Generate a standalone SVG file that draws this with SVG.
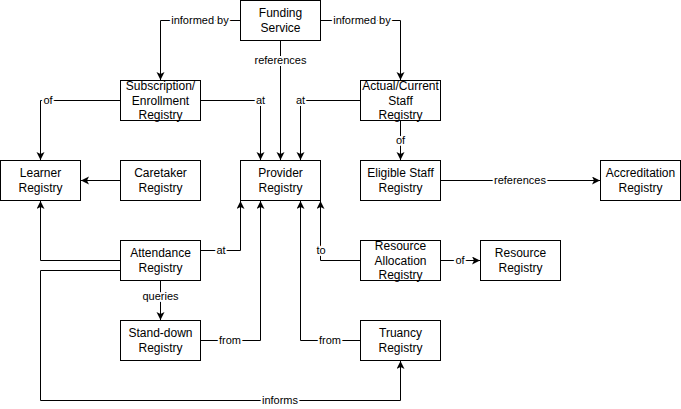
<svg xmlns="http://www.w3.org/2000/svg" width="681" height="409" viewBox="0 0 681 409">
<defs>
<marker id="arr" markerUnits="userSpaceOnUse" markerWidth="10" markerHeight="10" refX="8" refY="4" orient="auto">
<path d="M0,0 L8,4 L0,8 L2,4 Z" fill="#000"/>
</marker>
<style>
.node rect{fill:#fff;stroke:#000;stroke-width:1}
.node text{font-family:"Liberation Sans",Arial,sans-serif;font-size:12px;fill:#000;text-anchor:middle}
.edge{fill:none;stroke:#000;stroke-width:1}
.arrow{marker-end:url(#arr)}
.lbl{font-family:"Liberation Sans",Arial,sans-serif;font-size:11px;fill:#000;text-anchor:middle;stroke:#fff;stroke-width:4;paint-order:stroke;stroke-linejoin:round}
</style>
</defs>
<rect width="681" height="409" fill="#fff"/>
<g id="connectors">
<path class="edge arrow" d="M240.5,20.5 H160.5 V80"/>
<path class="edge arrow" d="M320.5,20.5 H400.5 V80"/>
<path class="edge arrow" d="M280.5,40.5 V160"/>
<path class="edge arrow" d="M120.5,100.5 H40.5 V160"/>
<path class="edge arrow" d="M200.5,100.5 H260.5 V160"/>
<path class="edge arrow" d="M360.5,100.5 H300.5 V160"/>
<path class="edge arrow" d="M400.5,120.5 V160"/>
<path class="edge arrow" d="M440.5,180.5 H600"/>
<path class="edge arrow" d="M120.5,180.5 H81"/>
<path class="edge arrow" d="M120.5,260.5 H40.5 V201"/>
<path class="edge arrow" d="M200.5,250.5 H240.5 V201"/>
<path class="edge arrow" d="M120.5,270.5 H40.5 V400.5 H400.5 V361"/>
<path class="edge arrow" d="M160.5,280.5 V320"/>
<path class="edge arrow" d="M200.5,340.5 H260.5 V201"/>
<path class="edge arrow" d="M360.5,340.5 H300.5 V201"/>
<path class="edge arrow" d="M360.5,260.5 H320.5 V201"/>
<path class="edge arrow" d="M440.5,260.5 H480"/>
<text class="lbl" x="200" y="24">informed by</text>
<text class="lbl" x="362" y="24">informed by</text>
<text class="lbl" x="280.5" y="64">references</text>
<text class="lbl" x="48" y="104">of</text>
<text class="lbl" x="260.5" y="104">at</text>
<text class="lbl" x="300.5" y="104">at</text>
<text class="lbl" x="400.5" y="144">of</text>
<text class="lbl" x="520" y="184">references</text>
<text class="lbl" x="221" y="254">at</text>
<text class="lbl" x="160.5" y="300">queries</text>
<text class="lbl" x="230" y="344">from</text>
<text class="lbl" x="330" y="344">from</text>
<text class="lbl" x="321" y="254">to</text>
<text class="lbl" x="460" y="264">of</text>
<text class="lbl" x="280" y="404">informs</text>
</g>
<g id="funding" class="node"><rect x="240.5" y="0.5" width="80" height="40"/><text x="280.5" y="17">Funding</text><text x="280.5" y="31.5">Service</text></g>
<g id="subscription" class="node"><rect x="120.5" y="80.5" width="80" height="40"/><text x="160.5" y="90">Subscription/</text><text x="160.5" y="104.5">Enrollment</text><text x="160.5" y="119">Registry</text></g>
<g id="actual-staff" class="node"><rect x="360.5" y="80.5" width="80" height="40"/><text x="400.5" y="90">Actual/Current</text><text x="400.5" y="104.5">Staff</text><text x="400.5" y="119">Registry</text></g>
<g id="learner" class="node"><rect x="0.5" y="160.5" width="80" height="40"/><text x="40.5" y="177">Learner</text><text x="40.5" y="191.5">Registry</text></g>
<g id="caretaker" class="node"><rect x="120.5" y="160.5" width="80" height="40"/><text x="160.5" y="177">Caretaker</text><text x="160.5" y="191.5">Registry</text></g>
<g id="provider" class="node"><rect x="240.5" y="160.5" width="80" height="40"/><text x="280.5" y="177">Provider</text><text x="280.5" y="191.5">Registry</text></g>
<g id="eligible-staff" class="node"><rect x="360.5" y="160.5" width="80" height="40"/><text x="400.5" y="177">Eligible Staff</text><text x="400.5" y="191.5">Registry</text></g>
<g id="accreditation" class="node"><rect x="600.5" y="160.5" width="80" height="40"/><text x="640.5" y="177">Accreditation</text><text x="640.5" y="191.5">Registry</text></g>
<g id="attendance" class="node"><rect x="120.5" y="240.5" width="80" height="40"/><text x="160.5" y="257">Attendance</text><text x="160.5" y="271.5">Registry</text></g>
<g id="resource-allocation" class="node"><rect x="360.5" y="240.5" width="80" height="40"/><text x="400.5" y="250">Resource</text><text x="400.5" y="264.5">Allocation</text><text x="400.5" y="279">Registry</text></g>
<g id="resource" class="node"><rect x="480.5" y="240.5" width="80" height="40"/><text x="520.5" y="257">Resource</text><text x="520.5" y="271.5">Registry</text></g>
<g id="stand-down" class="node"><rect x="120.5" y="320.5" width="80" height="40"/><text x="160.5" y="337">Stand-down</text><text x="160.5" y="351.5">Registry</text></g>
<g id="truancy" class="node"><rect x="360.5" y="320.5" width="80" height="40"/><text x="400.5" y="337">Truancy</text><text x="400.5" y="351.5">Registry</text></g>
</svg>
